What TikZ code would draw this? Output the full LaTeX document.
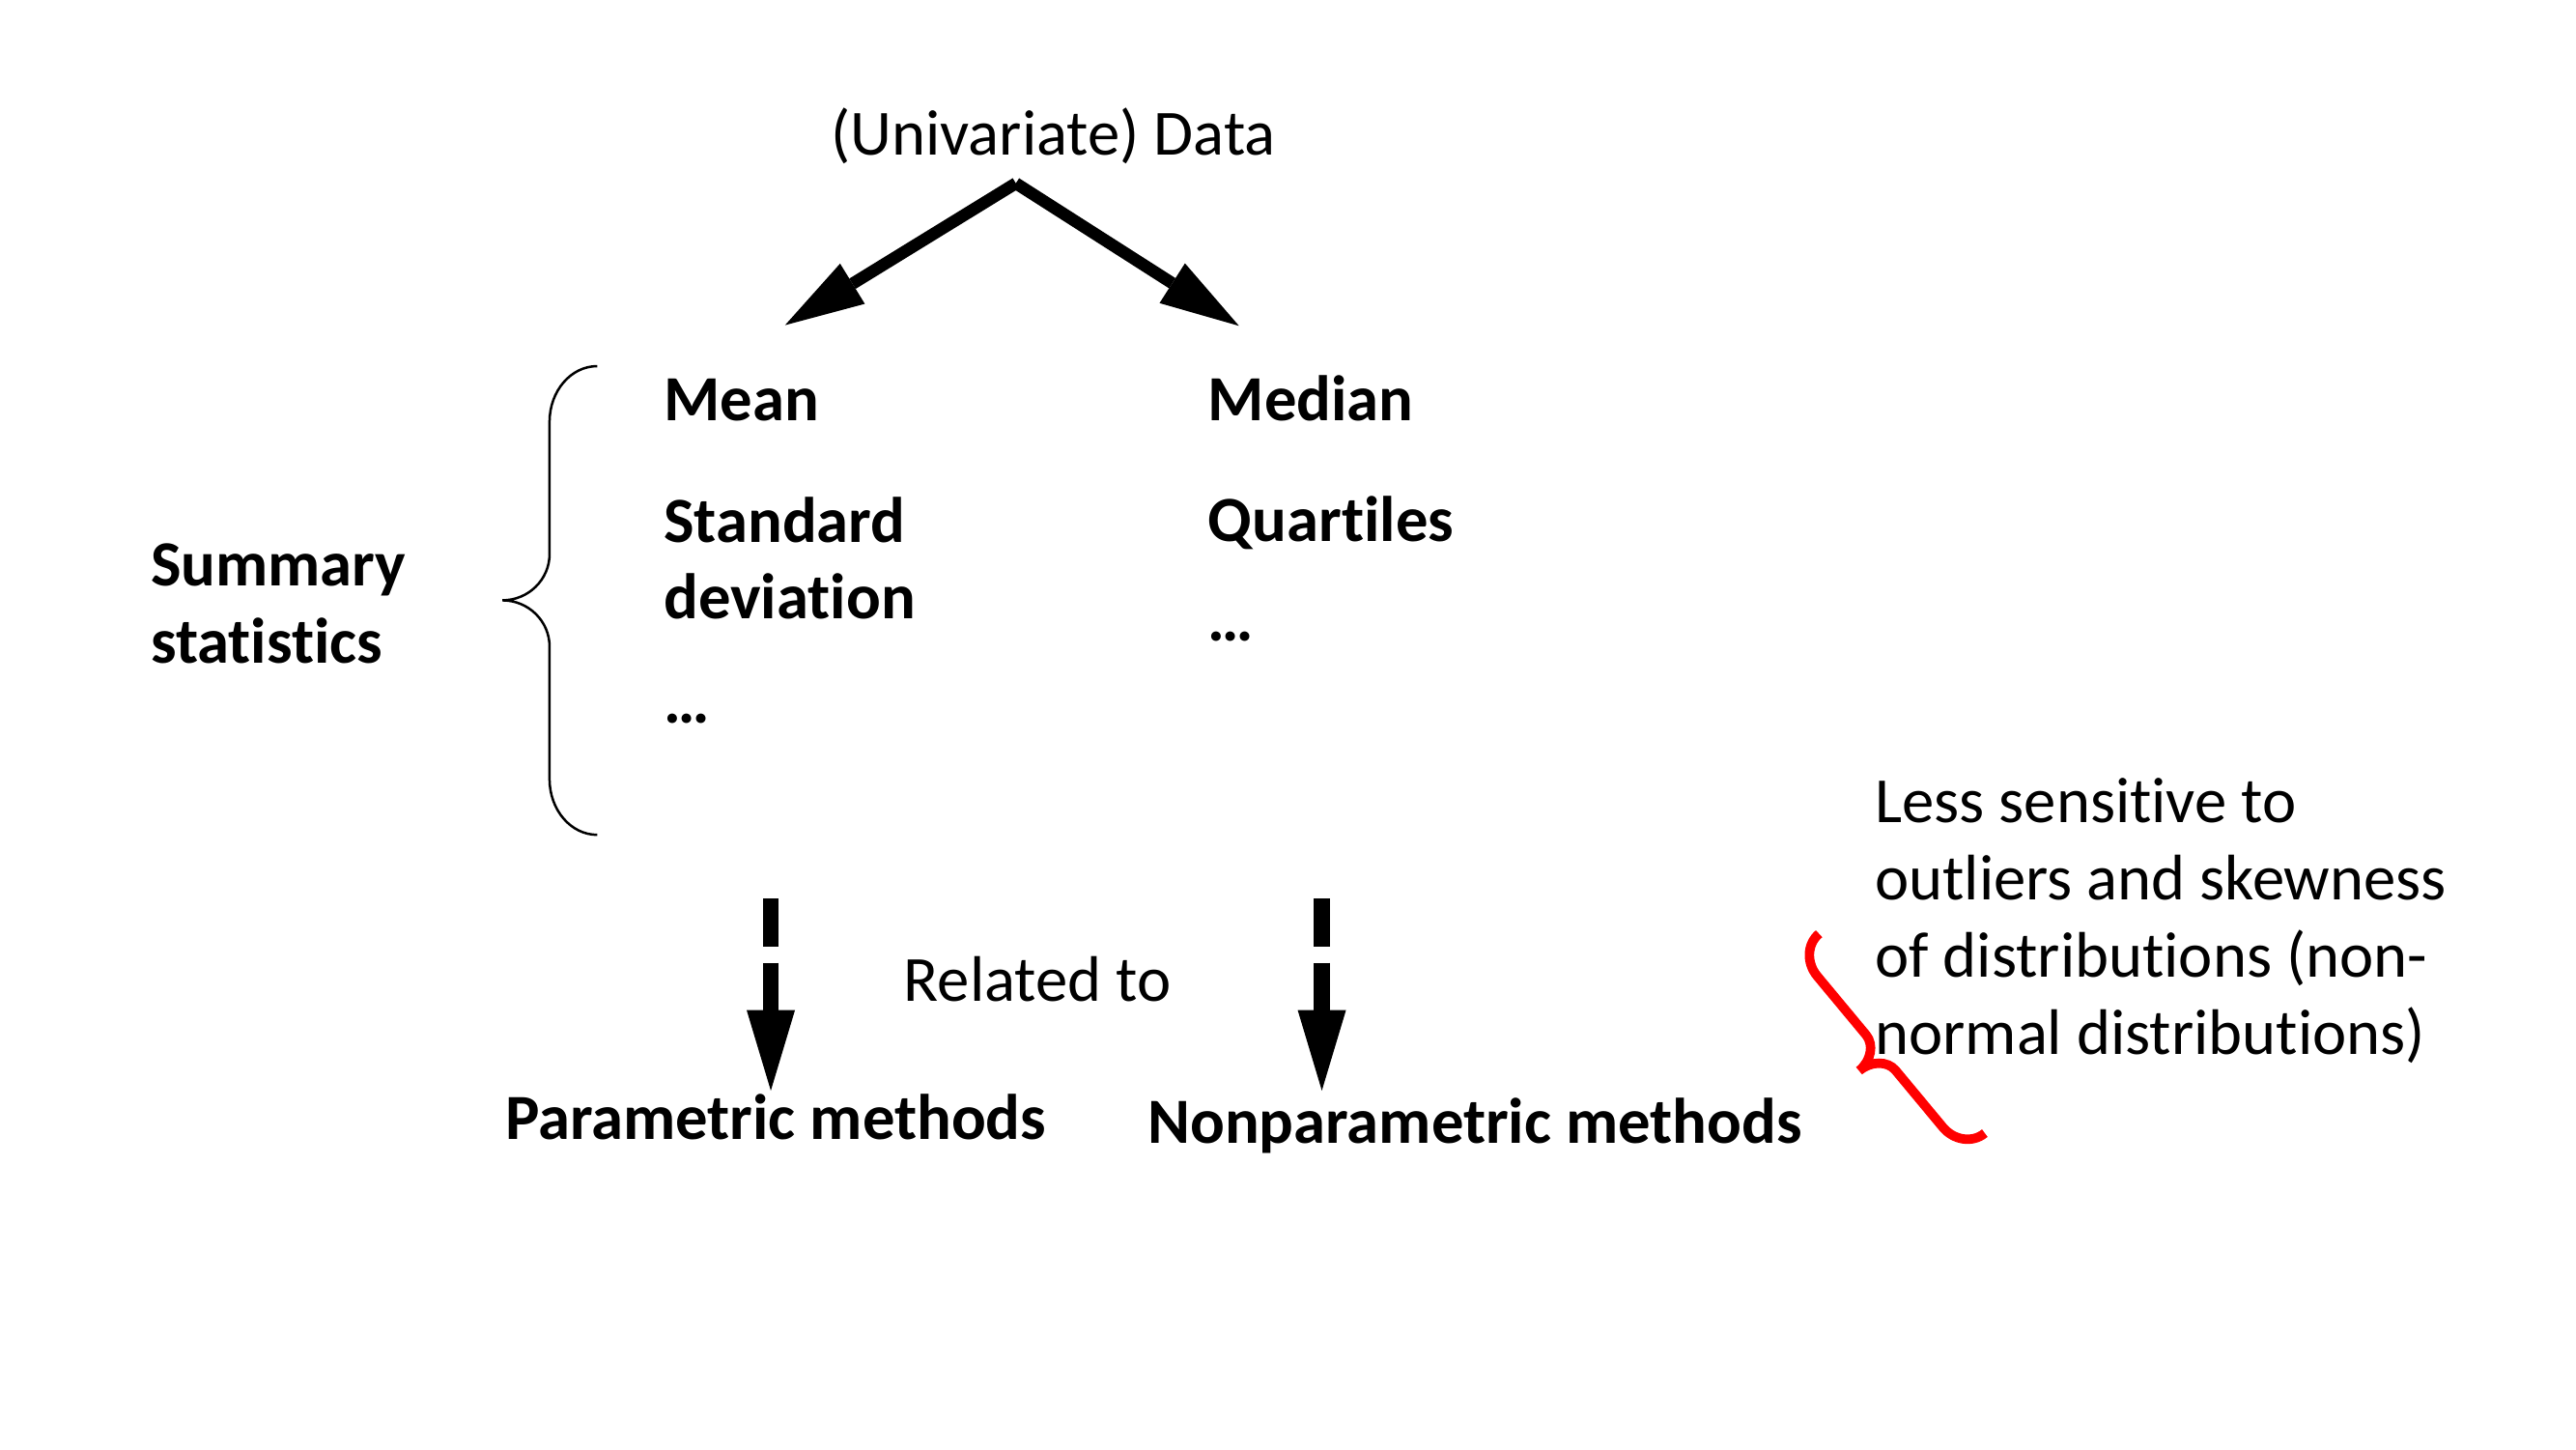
\documentclass[tikz,border=0pt]{standalone}
\usepackage{fontspec}
\setmainfont{Carlito}[Ligatures=NoCommon]
\usetikzlibrary{arrows.meta}
\begin{document}
\begin{tikzpicture}[x=0.615385pt, y=-0.615385pt,
  txt/.style={font=\fontsize{24}{28.8}\selectfont, inner sep=0pt, anchor=base west},
  btxt/.style={font=\fontsize{24}{28.8}\selectfont\bfseries, inner sep=0pt, anchor=base west},
  bigarrow/.style={line width=4.5pt, -{Triangle[length=29.5pt,width=17.6pt,line width=0pt]}},
  dasharrow/.style={line width=6pt, dash pattern=on 18pt off 6pt, -{Triangle[length=30pt,width=18pt,line width=0pt]}},
  bracepath/.style={line width=0.9pt},
  redbrace/.style={line width=3.5pt, draw=red}]
\useasboundingbox (0,0) rectangle (1560,877.5);

% title and top arrows
\node[txt] (data) at (503,93.6) {(Univariate) Data};
\coordinate (apex) at (615.2,111);
\coordinate (lt) at (475.4,196.9);
\coordinate (rt) at (750.3,197.3);
\draw[bigarrow] (apex) -- (lt);
\draw[bigarrow] (apex) -- (rt);

% columns
\node[btxt] (mean) at (401.7,255) {Mean};
\node[btxt] (sd1) at (401.7,328.2) {Standard};
\node[btxt] (sd2) at (401.7,374.8) {deviation};
\node[btxt] (dots1) at (401.7,437.6) {…};
\node[btxt] (median) at (731.4,254.7) {Median};
\node[btxt] (quart) at (731.4,327.8) {Quartiles};
\node[btxt] (dots2) at (731.4,388) {…};

% summary statistics
\node[btxt] (sum1) at (91,355) {Summary};
\node[btxt] (sum2) at (91,401.5) {statistics};

% black brace
\draw[bracepath] (361.7,221.7) .. controls (345.7,221.7) and (332.8,236.8) .. (332.8,255.4)
  -- (332.8,335.5) .. controls (332.8,350.9) and (320,363.5) .. (304.2,363.5)
  .. controls (320,363.5) and (332.8,376.1) .. (332.8,391.5)
  -- (332.8,471.8) .. controls (332.8,490.4) and (345.7,505.5) .. (361.7,505.5);

% dashed arrows
\coordinate (d1s) at (466.8,544);
\coordinate (d1e) at (466.8,660.4);
\coordinate (d2s) at (800.5,544);
\coordinate (d2e) at (800.5,660.4);
\draw[dasharrow] (d1s) -- (d1e);
\draw[dasharrow] (d2s) -- (d2e);

\node[txt] (rel) at (547,606.4) {Related to};
\node[btxt] (param) at (305.7,690.2) {Parametric methods};
\node[btxt] (nonparam) at (694.7,692.2) {Nonparametric methods};

% right note
\node[txt] (n1) at (1135.2,498.2) {Less sensitive to};
\node[txt] (n2) at (1135.2,545) {outliers and skewness};
\node[txt] (n3) at (1135.2,591.8) {of distributions (non-};
\node[txt] (n4) at (1135.2,638.6) {normal distributions)};

% red brace (local u along, v towards tip)
\begin{scope}[shift={(1101.6,565.4)}, rotate=-50.26]
\draw[redbrace] (0,0) .. controls (0,9.52) and (8.5,17.25) .. (19,17.25)
  -- (65.3,17.25) .. controls (73,17.25) and (79.3,24.98) .. (79.3,34.3)
  .. controls (79.3,24.98) and (85.6,17.25) .. (93.3,17.25)
  -- (138,17.25) .. controls (148.5,17.25) and (157,9.52) .. (157,0);
\end{scope}
\end{tikzpicture}
\end{document}
